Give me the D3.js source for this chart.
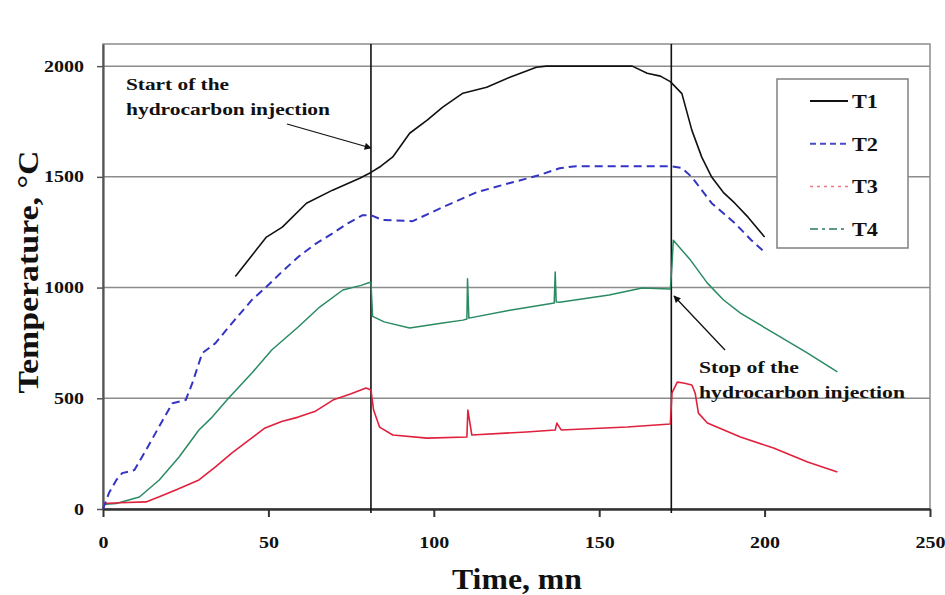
<!DOCTYPE html>
<html>
<head>
<meta charset="utf-8">
<script src="https://cdn.jsdelivr.net/npm/d3@7"></script>
<style>
  body { margin: 0; background: #fff; }
  text { font-family: "Liberation Serif", "Times New Roman", serif; font-weight: bold; fill: #111; }
</style>
</head>
<body>
<script>
// Values: time in mn, temperature in degC
const timeT1 = [40, 49.4, 54.2, 61.5, 69.4, 77.6, 81, 84, 87.6, 92.7, 98, 102.7, 108.8, 116, 123, 131, 134, 160, 164.5, 168.5, 171.5, 175, 178, 181, 184, 187.5, 191, 195, 200];
const tempT1 = [1050, 1228, 1273, 1381, 1440, 1494, 1520, 1548, 1590, 1697, 1756, 1815, 1878, 1905, 1950, 1995, 2000, 2000, 1968, 1955, 1930, 1876, 1711, 1589, 1499, 1430, 1381, 1318, 1228];

const timeT2 = [0, 1.8, 4, 5.8, 9.5, 13, 18, 21, 25, 27, 30, 34, 38, 45, 49, 54, 59, 64, 69.5, 74, 78.5, 81, 84.5, 93.6, 102.7, 113, 123, 132, 138, 143, 171.5, 175, 178, 184, 191, 196, 200];
const tempT2 = [0, 72, 130, 162, 176, 266, 400, 478, 492, 568, 704, 749, 822, 944, 998, 1070, 1138, 1195, 1246, 1290, 1327, 1327, 1305, 1300, 1363, 1431, 1472, 1508, 1539, 1548, 1548, 1540, 1499, 1381, 1291, 1214, 1160];

const timeT3 = [0, 5, 13, 17, 22, 29, 34, 39, 44, 49, 54, 59, 64, 69.5, 75, 79.5, 81, 81.8, 83.6, 87.6, 98, 110, 110.3, 111.5, 128, 136.7, 137.2, 138.5, 158.5, 171.5, 172, 173.6, 175.5, 178, 179, 180, 182.7, 192.7, 202.7, 213, 222];
const tempT3 = [25, 28, 32, 55, 86, 131, 190, 253, 310, 366, 395, 415, 440, 492, 520, 546, 537, 447, 370, 334, 320, 325, 447, 334, 348, 357, 388, 357, 370, 384, 524, 573, 569, 560, 524, 433, 388, 325, 275, 212, 167];

const timeT4 = [0, 4, 11, 17, 23, 29, 33, 38, 45, 51, 59, 65.5, 72.5, 78, 81, 81.5, 85, 92.7, 102.7, 108.8, 110, 110.2, 110.6, 123, 136.4, 136.7, 137, 138, 153, 163, 171.5, 172, 172.4, 177.6, 182.7, 187.6, 192.7, 202.7, 213, 222];
const tempT4 = [20, 25, 54, 131, 235, 357, 415, 501, 614, 718, 822, 912, 989, 1010, 1025, 870, 845, 817, 840, 853, 858, 1040, 862, 898, 930, 1070, 935, 934, 966, 998, 993, 1100, 1214, 1124, 1020, 944, 885, 795, 704, 619];

const seriesNames = ["T1", "T2", "T3", "T4"];
const xTicks = [0, 50, 100, 150, 200, 250];
const yTicks = [0, 500, 1000, 1500, 2000];
const injectionTimes = [81, 171.8];

// SVG area and margins
const svgWidth = 945;
const svgHeight = 595;
const chartMargin = { top: 44, right: 15, bottom: 86, left: 103 };
const chartWidth = svgWidth - chartMargin.left - chartMargin.right;
const chartHeight = svgHeight - chartMargin.top - chartMargin.bottom;

const svg = d3.select("body")
  .append("svg")
  .attr("width", svgWidth)
  .attr("height", svgHeight);

const defs = svg.append("defs");
defs.append("marker")
  .attr("id", "arrow")
  .attr("viewBox", "0 0 10 10")
  .attr("refX", 9)
  .attr("refY", 5)
  .attr("markerWidth", 9)
  .attr("markerHeight", 7)
  .attr("markerUnits", "userSpaceOnUse")
  .attr("orient", "auto")
  .append("path")
  .attr("d", "M0,0 L10,5 L0,10 z")
  .attr("fill", "#111");

const chartGroup = svg.append("g")
  .attr("transform", `translate(${chartMargin.left}, ${chartMargin.top})`);

const x = d3.scaleLinear().domain([0, 250]).range([0, chartWidth]);
const y = d3.scaleLinear().domain([0, 2100]).range([chartHeight, 0]);

// grid lines
chartGroup.selectAll(".grid")
  .data(yTicks.filter(d => d > 0))
  .enter()
  .append("line")
  .attr("x1", 0)
  .attr("x2", chartWidth)
  .attr("y1", d => y(d))
  .attr("y2", d => y(d))
  .attr("stroke", "#8c8c8c")
  .attr("stroke-width", 1.5);

// plot frame
chartGroup.append("rect")
  .attr("width", chartWidth)
  .attr("height", chartHeight)
  .attr("fill", "none")
  .attr("stroke", "#8c8c8c")
  .attr("stroke-width", 1.5);

// axes
const yAxis = chartGroup.append("g")
  .call(d3.axisLeft(y).tickValues(yTicks).tickFormat(d3.format("d"))
    .tickSize(6).tickSizeOuter(0).tickPadding(13));
yAxis.select(".domain").attr("stroke", "#555").attr("stroke-width", 2.2);
yAxis.selectAll(".tick line").attr("stroke", "#555").attr("stroke-width", 1.5);
yAxis.selectAll("text")
  .attr("font-size", 16)
  .attr("font-family", null)
  .attr("textLength", function() { return this.textContent.length * 10; })
  .attr("lengthAdjust", "spacingAndGlyphs");

const xAxis = chartGroup.append("g")
  .attr("transform", `translate(0, ${chartHeight})`)
  .call(d3.axisBottom(x).tickValues(xTicks).tickFormat(d3.format("d"))
    .tickSize(8).tickSizeOuter(0));
xAxis.select(".domain").attr("stroke", "#333").attr("stroke-width", 2.5);
xAxis.selectAll(".tick line").attr("stroke", "#333").attr("stroke-width", 2);
xAxis.selectAll("text")
  .attr("font-size", 16)
  .attr("font-family", null)
  .attr("y", 39)
  .attr("dy", 0)
  .attr("textLength", function() { return this.textContent.length * 10; })
  .attr("lengthAdjust", "spacingAndGlyphs");

// injection start / stop lines
chartGroup.selectAll(".event")
  .data(injectionTimes)
  .enter()
  .append("line")
  .attr("x1", d => x(d))
  .attr("x2", d => x(d))
  .attr("y1", 0)
  .attr("y2", chartHeight + 4)
  .attr("stroke", "#111")
  .attr("stroke-width", 1.6);

// series
const series = [
  { time: timeT4, temp: tempT4, color: "#2a8a62", width: 1.5, dash: null },
  { time: timeT3, temp: tempT3, color: "#e0203c", width: 1.6, dash: null },
  { time: timeT2, temp: tempT2, color: "#3434c4", width: 2, dash: "8,5" },
  { time: timeT1, temp: tempT1, color: "#111", width: 1.6, dash: null }
];

const line = d3.line()
  .x(d => x(d[0]))
  .y(d => y(d[1]));

series.forEach(s => {
  chartGroup.append("path")
    .datum(d3.zip(s.time, s.temp))
    .attr("d", line)
    .attr("fill", "none")
    .attr("stroke", s.color)
    .attr("stroke-width", s.width)
    .attr("stroke-dasharray", s.dash)
    .attr("stroke-linejoin", "round");
});

// legend
const legendStyles = [
  { color: "#111", dash: null, width: 2 },
  { color: "#4a4ac8", dash: "6,4", width: 2 },
  { color: "#e87a86", dash: "3,4", width: 1.5 },
  { color: "#2a7a5a", dash: "8,4,3,4", width: 1.5 }
];
const legend = svg.append("g").attr("transform", "translate(777, 79)");
legend.append("rect")
  .attr("width", 131)
  .attr("height", 169)
  .attr("fill", "#fff")
  .attr("stroke", "#808080")
  .attr("stroke-width", 1.5);

const legendItems = legend.selectAll(".item")
  .data(seriesNames)
  .enter()
  .append("g")
  .attr("transform", (d, i) => `translate(0, ${22 + i * 42.7})`);

legendItems.append("line")
  .attr("x1", 33)
  .attr("x2", 71)
  .attr("stroke", (d, i) => legendStyles[i].color)
  .attr("stroke-width", (d, i) => legendStyles[i].width)
  .attr("stroke-dasharray", (d, i) => legendStyles[i].dash);

legendItems.append("text")
  .attr("x", 75)
  .attr("y", 7)
  .attr("font-size", 19)
  .attr("textLength", 26)
  .attr("lengthAdjust", "spacingAndGlyphs")
  .text(d => d);

// annotations
const notes = [
  { x: 126, y: 90, w: 103, t: "Start of the" },
  { x: 126, y: 115, w: 204, t: "hydrocarbon injection" },
  { x: 699, y: 373, w: 100, t: "Stop of the" },
  { x: 699, y: 398, w: 206, t: "hydrocarbon injection" }
];
svg.selectAll(".note")
  .data(notes)
  .enter()
  .append("text")
  .attr("x", d => d.x)
  .attr("y", d => d.y)
  .attr("font-size", 16)
  .attr("textLength", d => d.w)
  .attr("lengthAdjust", "spacingAndGlyphs")
  .text(d => d.t);

svg.append("line")
  .attr("x1", 287).attr("y1", 124)
  .attr("x2", 371).attr("y2", 148)
  .attr("stroke", "#111").attr("stroke-width", 1.3)
  .attr("marker-end", "url(#arrow)");
svg.append("line")
  .attr("x1", 725).attr("y1", 350)
  .attr("x2", 674).attr("y2", 296)
  .attr("stroke", "#111").attr("stroke-width", 1.3)
  .attr("marker-end", "url(#arrow)");

// axis titles
svg.append("text")
  .attr("x", 517)
  .attr("y", 589)
  .attr("text-anchor", "middle")
  .attr("font-size", 30)
  .attr("textLength", 130)
  .attr("lengthAdjust", "spacingAndGlyphs")
  .text("Time, mn");

svg.append("text")
  .attr("transform", "translate(38, 272) rotate(-90)")
  .attr("text-anchor", "middle")
  .attr("font-size", 30)
  .attr("textLength", 243)
  .attr("lengthAdjust", "spacingAndGlyphs")
  .text("Temperature, °C");
</script>
</body>
</html>
